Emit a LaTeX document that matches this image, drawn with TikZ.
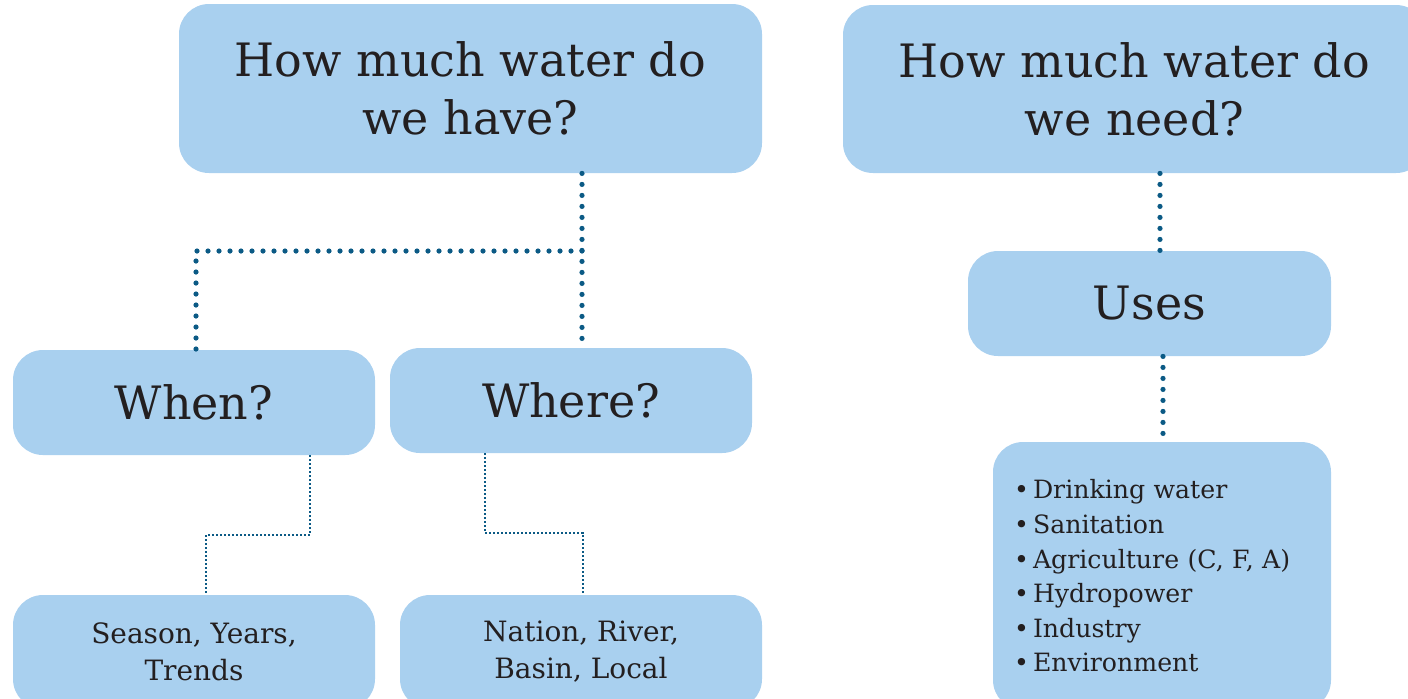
\documentclass[tikz,border=0pt]{standalone}
\usepackage{fontspec}
\setmainfont{DejaVu Serif}
\definecolor{boxblue}{HTML}{A9D0EF}
\definecolor{lineblue}{HTML}{0B5A85}
\definecolor{textdark}{HTML}{231F20}
\newcommand{\bitem}[1]{\makebox[9.5pt][l]{\textbullet}#1}
\begin{document}
\begin{tikzpicture}[x=0.5pt,y=-0.5pt,
  box/.style={fill=boxblue, draw=none, rounded corners=15pt, text=textdark, align=center, inner sep=0pt},
  bigtext/.style={font=\fontsize{23}{29}\selectfont},
  midtext/.style={font=\fontsize{14}{18.5}\selectfont},
  bigdots/.style={draw=lineblue, line width=2.6pt, line cap=round, dash pattern=on 0pt off 5.5pt},
  smalldots/.style={draw=lineblue, line width=1pt, dash pattern=on 1pt off 1pt},
]
\useasboundingbox (0,0) rectangle (1408,698);

% top boxes
\node[box, bigtext, minimum width=291.5pt, minimum height=84.5pt] (have) at (470.5,88.5) {How much water do\\we have?};
\node[box, bigtext, minimum width=291.5pt, minimum height=84pt] (need) at (1134.5,89) {How much water do\\we need?};

% middle boxes
\node[box, bigtext, minimum width=181pt, minimum height=52.5pt] (when) at (194,402.5) {When?};
\node[box, bigtext, minimum width=181pt, minimum height=52.5pt] (where) at (571,400.5) {Where?};
\node[box, bigtext, minimum width=181.5pt, minimum height=52.5pt] (uses) at (1149.5,303.5) {Uses};

% bottom boxes
\node[box, midtext, minimum width=181pt, minimum height=57pt] (season) at (194,652) {Season, Years,\\Trends};
\node[box, midtext, minimum width=181pt, minimum height=57pt] (nation) at (581,652) {Nation, River,\\Basin, Local};
\node[box, font=\fontsize{12.6}{17.3}\selectfont, text width=148pt, align=left, inner xsep=10.5pt, inner ysep=0pt, minimum height=134pt] (list) at (1162,576)
  {\bitem{Drinking water}\\\bitem{Sanitation}\\\bitem{Agriculture (C, F, A)}\\\bitem{Hydropower}\\\bitem{Industry}\\\bitem{Environment}};

% junction coordinates
\coordinate (j1) at (582,251);
\coordinate (j2) at (196,251);
\coordinate (k1) at (310,535);
\coordinate (k2) at (206,535);
\coordinate (m1) at (485,533);
\coordinate (m2) at (583,533);
\coordinate (n1) at (1160,0);
\coordinate (n2) at (1163,0);

% thick dotted connectors
\draw[bigdots] (have.south -| j1) -- (where.north -| j1);
\draw[bigdots] (j1) -- (j2) -- (when.north -| j2);
\draw[bigdots] (need.south -| n1) -- (uses.north -| n1);
\draw[bigdots] (uses.south -| n2) -- (list.north -| n2);

% thin dotted connectors
\draw[smalldots] (when.south -| k1) -- (k1) -- (k2) -- (season.north -| k2);
\draw[smalldots] (where.south -| m1) -- (m1) -- (m2) -- (nation.north -| m2);
\end{tikzpicture}
\end{document}
